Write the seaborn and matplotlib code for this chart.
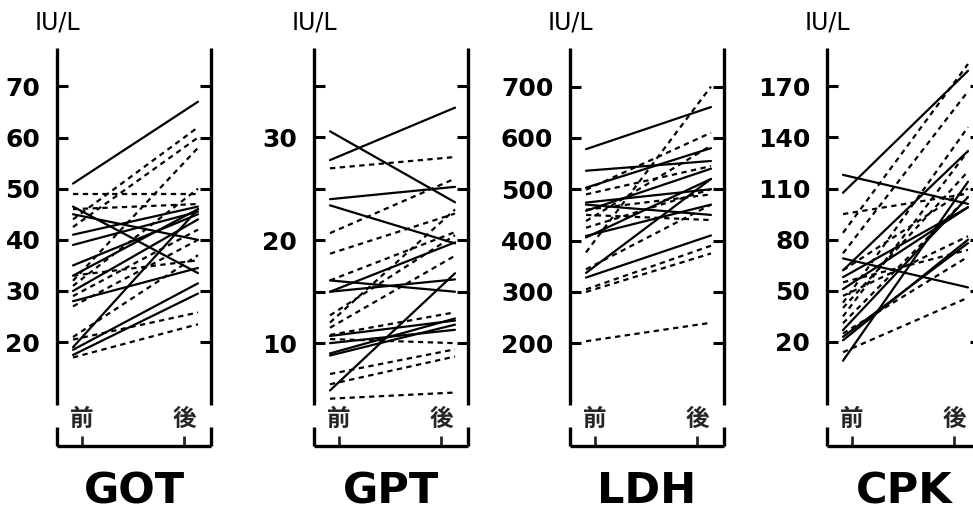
import numpy as np
import pandas as pd
import matplotlib
matplotlib.use("Agg")
import matplotlib.pyplot as plt
import seaborn as sns

# ---------------- data ----------------
panels = ["GOT", "GPT", "LDH", "CPK"]
time_labels = ["前", "後"]

got_pre_solid = [51, 46.5, 45, 41, 39, 35, 33, 30, 28, 19, 18.5, 17.5]
got_post_solid = [67, 33.5, 40, 46.5, 45.5, 45, 46, 44, 34.5, 46, 31.5, 29.5]
got_pre_dash = [49, 44, 42.5, 32, 46, 29, 27, 31, 21, 20.5, 17, 33]
got_post_dash = [49, 62, 60, 58, 47, 42, 40, 50, 37, 25.8, 23.5, 36]

gpt_pre_solid = [30.6, 27.8, 24, 23.4, 16.1, 15, 15, 10.7, 10, 9, 8.8, 5.4]
gpt_post_solid = [23.7, 32.9, 25.2, 19.7, 15, 16.2, 19.8, 12.2, 11.3, 12.4, 11.8, 16.8]
gpt_pre_dash = [27, 20.7, 18.7, 16.1, 12.7, 11.5, 12, 10.4, 7, 6, 4.6, 10.8]
gpt_post_dash = [28.1, 26, 22.6, 20.8, 20.5, 18.5, 23, 10, 9.4, 8.7, 5.2, 13]

ldh_pre_solid = [578, 536, 503, 474, 458, 470, 409, 406, 337, 328]
ldh_post_solid = [660, 555, 580, 500, 540, 450, 470, 520, 520, 410]
ldh_pre_dash = [499, 490, 438, 425, 377, 344, 305, 300, 204, 460, 450]
ldh_post_dash = [610, 545, 585, 500, 700, 470, 390, 375, 240, 490, 440]

cpk_pre_solid = [107.5, 118, 69, 9, 23, 27, 58, 62, 51, 21]
cpk_post_solid = [179, 101, 52, 114, 78, 105, 99, 132, 99, 80]
cpk_pre_dash = [95, 84, 72, 43, 35, 31, 14, 55, 47, 25, 62, 40]
cpk_post_dash = [107, 183, 167, 146, 132, 105, 46, 74, 82, 70, 110, 120]

ytick_values = {
    "GOT": [20, 30, 40, 50, 60, 70],
    "GPT": [10, 15, 20, 25, 30, 35],
    "LDH": [200, 300, 400, 500, 600, 700],
    "CPK": [20, 50, 80, 110, 140, 170],
}
ytick_labels = {
    "GOT": ["20", "30", "40", "50", "60", "70"],
    "GPT": ["10", "", "20", "", "30", ""],
    "LDH": ["200", "300", "400", "500", "600", "700"],
    "CPK": ["20", "50", "80", "110", "140", "170"],
}
unit_label = "IU/L"

series = {
    "GOT": (got_pre_solid, got_post_solid, got_pre_dash, got_post_dash),
    "GPT": (gpt_pre_solid, gpt_post_solid, gpt_pre_dash, gpt_post_dash),
    "LDH": (ldh_pre_solid, ldh_post_solid, ldh_pre_dash, ldh_post_dash),
    "CPK": (cpk_pre_solid, cpk_post_solid, cpk_pre_dash, cpk_post_dash),
}


def long_frame(pre_s, post_s, pre_d, post_d):
    rows = []
    sid = 0
    for kind, pre, post in (("solid", pre_s, post_s), ("dashed", pre_d, post_d)):
        for a, b in zip(pre, post):
            rows.append((sid, kind, 0, a))
            rows.append((sid, kind, 1, b))
            sid += 1
    return pd.DataFrame(rows, columns=["sid", "kind", "t", "v"])


# ---------------- layout ----------------
sns.set_theme(style="white")
plt.rcParams["font.family"] = ["DejaVu Sans"]

W, H = 973, 513
fig = plt.figure(figsize=(W / 100, H / 100), dpi=100)

left_px = [57, 314, 570, 827]
box_w = 154
top_px, bot_px = 48, 446
ylims = {"GOT": (-0.3, 77.5), "GPT": (0.0, 38.7), "LDH": (0, 775), "CPK": (-41, 192.4)}
x0_px, x1_px = 16, 141          # pixel offset of line ends inside box
ppu = x1_px - x0_px
xlim = (-x0_px / ppu, (box_w - x0_px) / ppu)
tick_px = [25, 127]
xt = [(p - x0_px) / ppu for p in tick_px]

gap_lo = (bot_px - 427) / (bot_px - top_px)
gap_hi = (bot_px - 405) / (bot_px - top_px)

for i, name in enumerate(panels):
    L = left_px[i]
    ax = fig.add_axes([L / W, (H - bot_px) / H, box_w / W, (bot_px - top_px) / H])
    df = long_frame(*series[name])
    sns.lineplot(data=df, x="t", y="v", units="sid", estimator=None,
                 style="kind", style_order=["solid", "dashed"],
                 dashes={"solid": "", "dashed": (2.4, 2.0)},
                 color="black", lw=1.6, legend=False, sort=False, ax=ax)
    ax.set_xlim(*xlim)
    ax.set_ylim(*ylims[name])
    ax.set_xlabel("")
    ax.set_ylabel("")
    for s in ax.spines.values():
        s.set_visible(False)
    # frame with gaps on both sides
    kw = dict(transform=ax.transAxes, color="black", lw=2.4, clip_on=False,
              solid_capstyle="butt")
    for xx in (0, 1):
        ax.plot([xx, xx], [gap_hi, 1], **kw)
        ax.plot([xx, xx], [0, gap_lo], **kw)
    ax.plot([0, 1], [0, 0], **kw)

    ax.set_yticks(ytick_values[name])
    ax.set_yticklabels(ytick_labels[name])
    ax.tick_params(axis="y", which="both", direction="in", left=True, right=True,
                   length=8, width=2.2, labelsize=18, pad=12, colors="black")
    for lab in ax.get_yticklabels():
        lab.set_fontweight("bold")

    ax.set_xticks(xt)
    ax.set_xticklabels([])
    ax.tick_params(axis="x", which="both", direction="in", bottom=True,
                   length=7, width=2, labelbottom=False)
    for xpos, lab in zip(xt, time_labels):
        ax.text(xpos, 0.068, lab, transform=ax.get_xaxis_transform(),
                ha="center", va="center", fontsize=17, fontweight="bold",
                family=["Noto Sans CJK JP", "DejaVu Sans"])

    fig.text(L / W, (H - 22) / H, unit_label, ha="center", va="center",
             fontsize=17, color="black")
    fig.text((L + box_w / 2) / W, (H - 491) / H, name, ha="center", va="center",
             fontsize=31, fontweight="bold", color="black")

fig.savefig("out.png", dpi=100, facecolor="white")
